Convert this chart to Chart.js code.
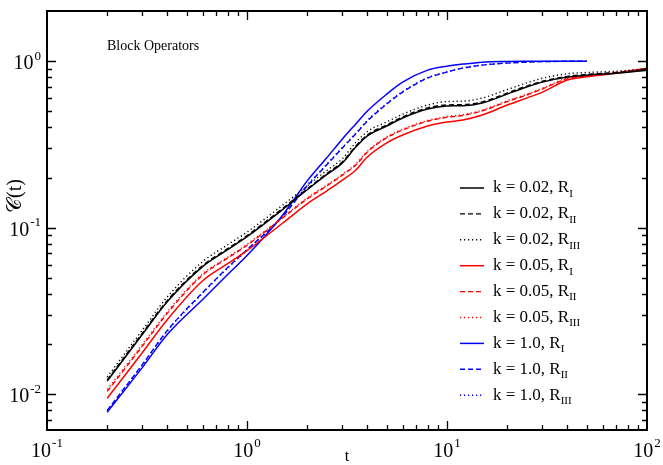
<!DOCTYPE html>
<html>
<head>
<meta charset="utf-8">
<script src="https://cdn.jsdelivr.net/npm/chart.js@4.4.1/dist/chart.umd.min.js"></script>
<style>
  body { margin: 0; background: #fff; }
  canvas { display: block; }
</style>
</head>
<body>
<canvas id="chart" width="663" height="465"></canvas>
<script>
// time points (black / red runs go to t = 100, blue runs stop at t = 50)
var tFull = [0.2, 0.3, 0.4, 0.6, 0.8, 1, 1.5, 2, 2.5, 3, 3.5, 4, 5, 6, 8, 10, 12, 15, 20, 25, 30, 40, 50, 70, 100];
var tBlue = [0.2, 0.3, 0.4, 0.6, 0.8, 1, 1.5, 2, 2.5, 3, 3.5, 4, 5, 6, 8, 10, 12, 15, 20, 25, 30, 40, 50];

// k = 0.02
var k002_RI   = [0.0120, 0.0229, 0.0360, 0.0584, 0.0738, 0.0883, 0.128, 0.169, 0.208, 0.245, 0.305, 0.356, 0.408, 0.456, 0.516, 0.538, 0.540, 0.561, 0.634, 0.699, 0.748, 0.802, 0.824, 0.847, 0.883];
var k002_RII  = [0.0122, 0.0233, 0.0366, 0.0593, 0.0749, 0.0896, 0.130, 0.171, 0.211, 0.249, 0.309, 0.361, 0.414, 0.463, 0.524, 0.546, 0.548, 0.569, 0.643, 0.708, 0.757, 0.810, 0.832, 0.855, 0.890];
var k002_RIII = [0.0127, 0.0243, 0.0385, 0.0625, 0.0790, 0.0940, 0.136, 0.178, 0.220, 0.260, 0.325, 0.378, 0.432, 0.480, 0.545, 0.572, 0.575, 0.600, 0.675, 0.740, 0.790, 0.840, 0.855, 0.870, 0.900];
// k = 0.05
var k005_RI   = [0.00946, 0.0178, 0.0281, 0.0480, 0.0608, 0.0729, 0.106, 0.139, 0.166, 0.193, 0.222, 0.266, 0.323, 0.360, 0.408, 0.431, 0.443, 0.475, 0.545, 0.600, 0.652, 0.770, 0.805, 0.847, 0.908];
var k005_RII  = [0.0104, 0.0195, 0.0307, 0.0520, 0.0656, 0.0785, 0.114, 0.149, 0.178, 0.207, 0.238, 0.285, 0.347, 0.386, 0.436, 0.460, 0.472, 0.503, 0.572, 0.626, 0.680, 0.785, 0.812, 0.850, 0.895];
var k005_RIII = [0.0107, 0.0199, 0.0313, 0.0528, 0.0665, 0.0795, 0.115, 0.151, 0.180, 0.209, 0.241, 0.288, 0.350, 0.390, 0.440, 0.465, 0.477, 0.508, 0.578, 0.632, 0.688, 0.792, 0.818, 0.858, 0.900];
// k = 1.0
var k1_RI   = [0.0078, 0.0145, 0.0229, 0.0371, 0.0523, 0.0680, 0.118, 0.191, 0.262, 0.341, 0.420, 0.502, 0.634, 0.748, 0.883, 0.933, 0.960, 0.986, 0.996, 0.999, 1.0, 1.0, 1.0];
var k1_RII  = [0.0080, 0.0151, 0.0242, 0.0408, 0.0576, 0.0738, 0.116, 0.178, 0.238, 0.301, 0.366, 0.437, 0.553, 0.652, 0.791, 0.859, 0.908, 0.946, 0.973, 0.986, 0.993, 0.998, 1.0];
var k1_RIII = [0.0080, 0.0150, 0.0240, 0.0404, 0.0572, 0.0732, 0.117, 0.180, 0.240, 0.304, 0.369, 0.441, 0.558, 0.657, 0.796, 0.863, 0.911, 0.948, 0.975, 0.987, 0.994, 0.998, 1.0];

// axis decades that get a "10^n" label
var xTickExps = [-1, 0, 1, 2];
var yTickExps = [-2, -1, 0];

var seriesLabels = ['k = 0.02, R_I', 'k = 0.02, R_II', 'k = 0.02, R_III',
                    'k = 0.05, R_I', 'k = 0.05, R_II', 'k = 0.05, R_III',
                    'k = 1.0, R_I', 'k = 1.0, R_II', 'k = 1.0, R_III'];

var SERIF = '"Liberation Serif", "DejaVu Serif", serif';

function pts(ts, vals) {
    return ts.map(function (t, i) { return { x: t, y: vals[i] }; });
}

function makeSet(label, ts, vals, color, dash) {
    return {
        label: label,
        data: pts(ts, vals),
        borderColor: color,
        borderWidth: dash.length ? 1.4 : 1.5,
        borderDash: dash,
        pointRadius: 0,
        fill: false,
        cubicInterpolationMode: 'monotone'
    };
}

var SOLID = [], DASH = [5, 3], DOT = [1.2, 2.8];

var datasets = [
    makeSet(seriesLabels[0], tFull, k002_RI, '#000000', SOLID),
    makeSet(seriesLabels[1], tFull, k002_RII, '#000000', DASH),
    makeSet(seriesLabels[2], tFull, k002_RIII, '#000000', DOT),
    makeSet(seriesLabels[3], tFull, k005_RI, '#ff0000', SOLID),
    makeSet(seriesLabels[4], tFull, k005_RII, '#ff0000', DASH),
    makeSet(seriesLabels[5], tFull, k005_RIII, '#ff0000', DOT),
    makeSet(seriesLabels[6], tBlue, k1_RI, '#0000ff', SOLID),
    makeSet(seriesLabels[7], tBlue, k1_RII, '#0000ff', DASH),
    makeSet(seriesLabels[8], tBlue, k1_RIII, '#0000ff', DOT)
];

// "10" with a raised exponent
function drawPow(ctx, exp, x, y, align) {
    ctx.font = '20px ' + SERIF;
    var wb = ctx.measureText('10').width;
    ctx.font = '13px ' + SERIF;
    var e = String(exp).replace('-', '-');
    var we = ctx.measureText(e).width;
    var total = wb + we + 1;
    var x0 = align === 'center' ? x - total / 2 : x - total;
    ctx.textAlign = 'left';
    ctx.textBaseline = 'middle';
    ctx.font = '20px ' + SERIF;
    ctx.fillText('10', x0, y);
    ctx.font = '13px ' + SERIF;
    ctx.fillText(e, x0 + wb + 1, y - 8);
}

function drawTicks(ctx, scale, a, horizontal) {
    var lo = Math.floor(Math.log10(scale.min)), hi = Math.ceil(Math.log10(scale.max));
    for (var d = lo; d <= hi; d++) {
        for (var m = 1; m <= 9; m++) {
            var v = m * Math.pow(10, d);
            if (v <= scale.min * 1.0001 || v >= scale.max * 0.9999) continue;
            var p = Math.round(scale.getPixelForValue(v)) + 0.5;
            var len = m === 1 ? 9 : 5;
            ctx.beginPath();
            if (horizontal) {
                ctx.moveTo(p, a.bottom); ctx.lineTo(p, a.bottom - len);
                ctx.moveTo(p, a.top); ctx.lineTo(p, a.top + len);
            } else {
                ctx.moveTo(a.left, p); ctx.lineTo(a.left + len, p);
                ctx.moveTo(a.right, p); ctx.lineTo(a.right - len, p);
            }
            ctx.stroke();
        }
    }
}

var decor = {
    id: 'decor',
    afterDatasetsDraw: function (chart) {
        var ctx = chart.ctx, a = chart.chartArea;
        var xs = chart.scales.x, ys = chart.scales.y;
        ctx.save();
        ctx.fillStyle = '#000';
        ctx.strokeStyle = '#000';

        // ticks on all four sides, pointing in
        ctx.lineWidth = 1.3;
        drawTicks(ctx, xs, a, true);
        drawTicks(ctx, ys, a, false);

        // frame
        ctx.lineWidth = 2;
        ctx.strokeRect(a.left, a.top, a.right - a.left, a.bottom - a.top);

        // tick labels
        xTickExps.forEach(function (e) {
            drawPow(ctx, e, xs.getPixelForValue(Math.pow(10, e)), a.bottom + 22, 'center');
        });
        yTickExps.forEach(function (e) {
            drawPow(ctx, e, a.left - 6, ys.getPixelForValue(Math.pow(10, e)) + 3, 'right');
        });

        // axis titles
        ctx.textAlign = 'center';
        ctx.textBaseline = 'middle';
        ctx.font = '16px ' + SERIF;
        ctx.fillText('t', (a.left + a.right) / 2, a.bottom + 27);
        ctx.save();
        ctx.translate(16, 196);
        ctx.rotate(-Math.PI / 2);
        ctx.font = '20px ' + SERIF;
        ctx.fillText('\u{1D49E}(t)', 0, 0);
        ctx.restore();

        // panel note
        ctx.textAlign = 'left';
        ctx.font = '14px ' + SERIF;
        ctx.fillText('Block Operators', 107, 46);

        // legend
        chart.data.datasets.forEach(function (ds, i) {
            var yRow = 188 + i * 25.9;
            ctx.save();
            ctx.strokeStyle = ds.borderColor;
            ctx.lineWidth = ds.borderWidth;
            ctx.setLineDash(ds.borderDash);
            ctx.beginPath();
            ctx.moveTo(460, yRow);
            ctx.lineTo(484, yRow);
            ctx.stroke();
            ctx.restore();
            var parts = ds.label.split('_');
            ctx.textBaseline = 'middle';
            ctx.font = '17px ' + SERIF;
            ctx.fillText(parts[0], 493, yRow);
            var w = ctx.measureText(parts[0]).width;
            ctx.font = '11px ' + SERIF;
            ctx.fillText(parts[1], 493 + w, yRow + 6);
        });
        ctx.restore();
    }
};

new Chart(document.getElementById('chart'), {
    type: 'line',
    data: { datasets: datasets },
    options: {
        responsive: false,
        animation: false,
        devicePixelRatio: 1,
        layout: { padding: { top: 11, right: 16, left: 0, bottom: 0 } },
        plugins: { legend: { display: false }, title: { display: false }, tooltip: { enabled: false } },
        scales: {
            x: {
                type: 'logarithmic', min: 0.1, max: 100,
                grid: { display: false }, border: { display: false },
                ticks: { display: false },
                afterFit: function (s) { s.height = 35; }
            },
            y: {
                type: 'logarithmic', min: 0.0061, max: 2.0,
                grid: { display: false }, border: { display: false },
                ticks: { display: false },
                afterFit: function (s) { s.width = 47; }
            }
        }
    },
    plugins: [decor]
});
</script>
</body>
</html>
